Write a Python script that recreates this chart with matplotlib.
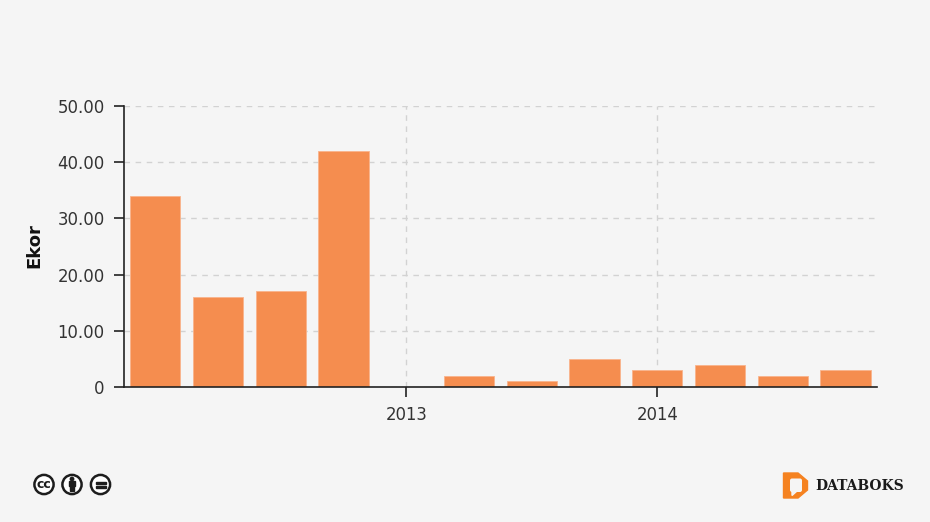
import matplotlib
matplotlib.use('Agg')
import matplotlib.pyplot as plt
from matplotlib.patches import Circle, Rectangle, Polygon, FancyBboxPatch

# data
values = [34, 16, 17, 42, 0, 2, 1, 5, 3, 4, 2, 3]
tick_pos = [4, 8]
tick_labels = ['2013', '2014']
y_ticks = [0, 10, 20, 30, 40, 50]
y_labels = ['0', '10.00', '20.00', '30.00', '40.00', '50.00']

W, H = 930, 522
bg = '#f5f5f5'
orange = '#f58d4f'

plt.rcParams['font.family'] = ['DejaVu Sans']

fig = plt.figure(figsize=(W / 100, H / 100), dpi=100, facecolor=bg)
ax = fig.add_axes([124 / W, 1 - 387 / H, (876.8 - 124) / W, (387 - 106) / H], facecolor=bg)

ax.bar(range(len(values)), values, width=0.8, color=orange, edgecolor='#f9b48c', linewidth=0.6, zorder=2)

ax.set_xlim(-0.5, 11.5)
ax.set_ylim(0, 50)
ax.set_xticks(tick_pos)
ax.set_xticklabels(tick_labels)
ax.set_yticks(y_ticks)
ax.set_yticklabels(y_labels)
ax.tick_params(axis='y', length=7, width=1.2, color='#222222', labelsize=11.9, labelcolor='#333333', pad=7)
ax.tick_params(axis='x', length=7, width=1.2, color='#222222', labelsize=11.9, labelcolor='#333333', pad=7)
ax.grid(True, color='#d2d2d2', linewidth=1, linestyle=(0, (4, 4)), zorder=1)
ax.set_axisbelow(True)

for s in ['top', 'right']:
    ax.spines[s].set_visible(False)
for s in ['left', 'bottom']:
    ax.spines[s].set_color('#222222')
    ax.spines[s].set_linewidth(1.2)

fig.text(34 / W, 1 - 246 / H, 'Ekor', rotation=90, ha='center', va='center',
         fontsize=13, fontweight='bold', color='#111111')

# footer drawn in pixel coordinates
over = fig.add_axes([0, 0, 1, 1], facecolor='none')
over.set_xlim(0, W)
over.set_ylim(H, 0)
over.axis('off')

ink = '#1d1d1d'
for cx in [44, 72, 100.5]:
    over.add_patch(Circle((cx, 484.5), 9.6, facecolor='white', edgecolor=ink, linewidth=1.8))
over.text(44, 484, 'cc', ha='center', va='center', fontsize=9, fontweight='bold', color=ink)
# person
over.add_patch(Circle((72, 479), 1.7, color=ink))
over.add_patch(Rectangle((69.4, 481.2), 5.2, 4.8, color=ink))
over.add_patch(Rectangle((70.4, 485.5), 3.2, 5, color=ink))
# equals
over.add_patch(Rectangle((95.5, 481.5), 10, 2.2, color=ink))
over.add_patch(Rectangle((95.5, 485.7), 10, 2.2, color=ink))

# logo
logo = '#f58220'
over.add_patch(Polygon([(783.5, 473), (798, 473), (807.5, 481), (807.5, 490),
                        (798, 498), (783.5, 498)], closed=True, color=logo))
over.add_patch(FancyBboxPatch((790, 478.5), 12, 13.5, boxstyle='round,pad=0,rounding_size=2',
                              facecolor=bg, edgecolor='none'))
over.add_patch(Polygon([(792, 491), (797, 491), (792, 495.5)], closed=True, color=bg))
over.text(815, 486, 'DATABOKS', ha='left', va='center', fontsize=10, fontweight='bold',
          family='DejaVu Serif', color='#1a1a1a')

fig.savefig('out.png', dpi=100, facecolor=bg)
